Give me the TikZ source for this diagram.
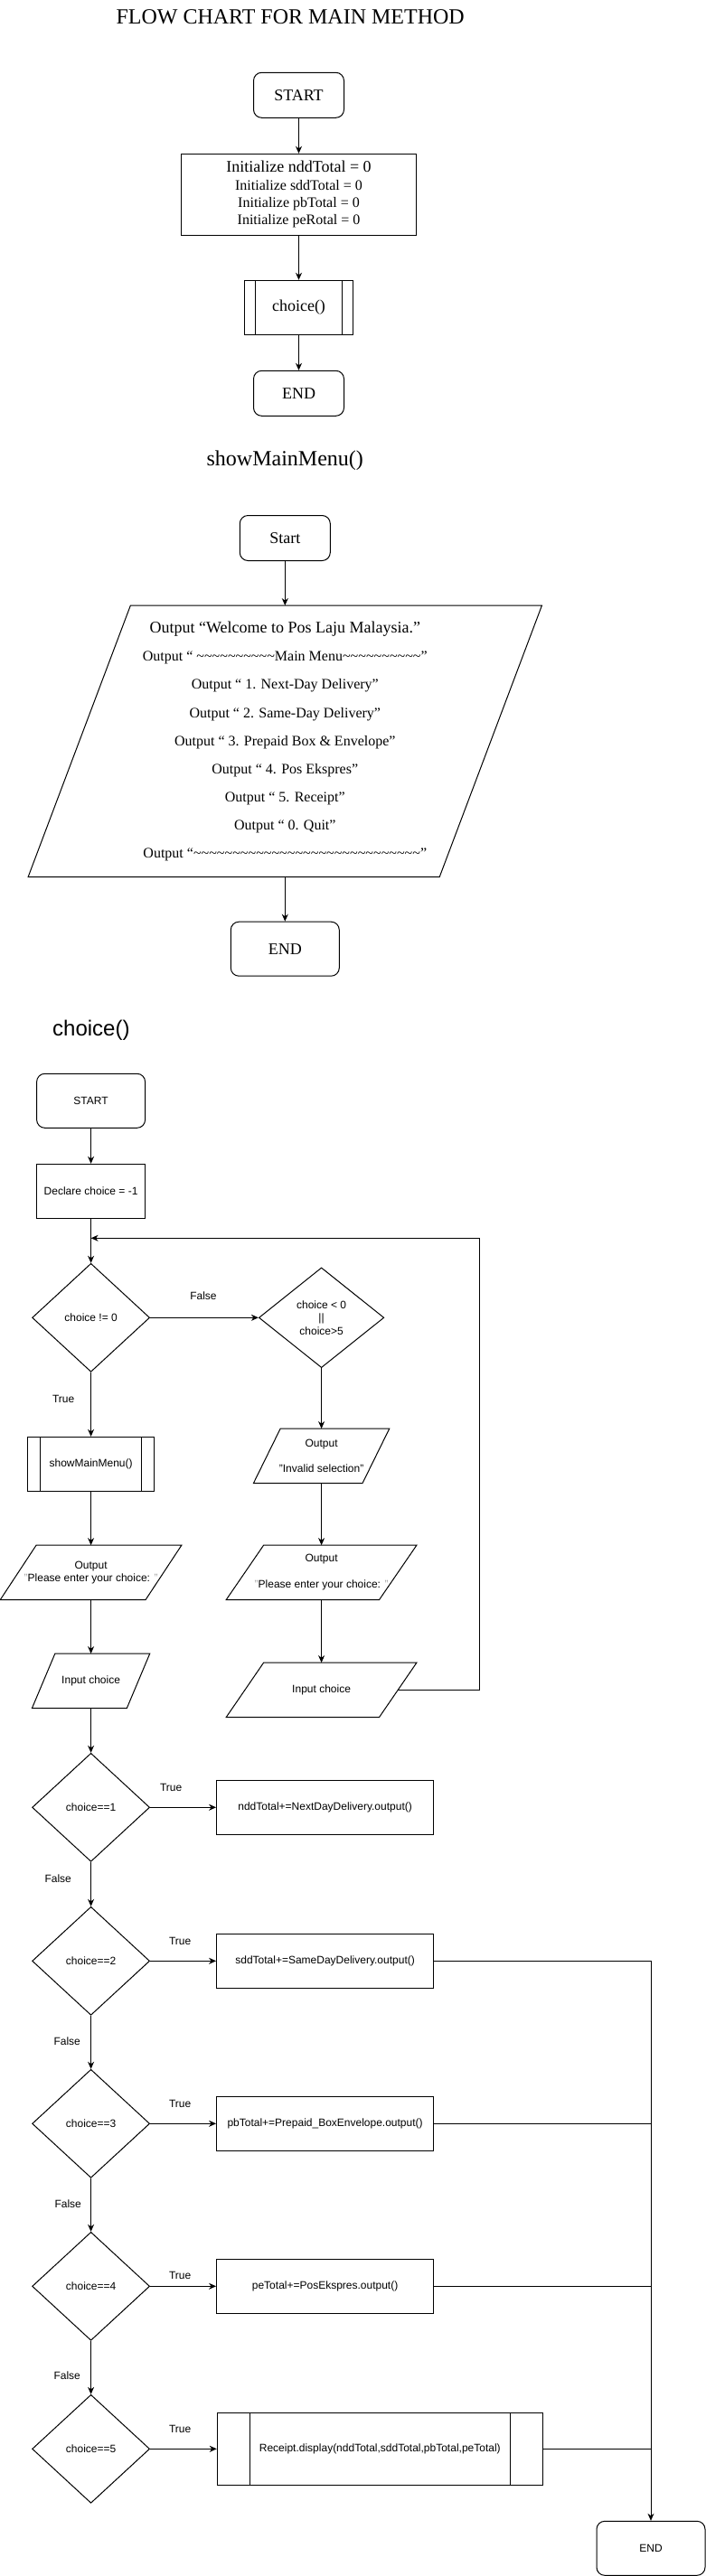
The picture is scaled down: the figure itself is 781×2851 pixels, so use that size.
\documentclass[tikz,border=0pt]{standalone}
\usepackage{fontspec}
\setmainfont{Liberation Serif}
\setsansfont{Liberation Sans}
\usepackage{xcolor}
\usetikzlibrary{arrows.meta,positioning,shapes.geometric}
\newcommand\tld[1]{\foreach \i in {1,...,#1}{\textasciitilde}}
\newcommand\gq{\textcolor{gray!70}{"}}
\tikzset{
  % plain black outline, 1px
  base/.style={draw=black,line width=1pt,inner sep=0pt},
  % terminal (rounded)
  termbox/.style={base,rectangle,rounded corners=9pt,
    minimum width=100pt,minimum height=50pt},
  % process box
  procbox/.style={base,rectangle,align=center,
    minimum width=120pt,minimum height=60pt},
  % predefined process, #1 = inset of the side bars
  subbox/.style={procbox,
    path picture={
      \draw[line width=1pt]
        ([xshift=#1]path picture bounding box.north west) --
        ([xshift=#1]path picture bounding box.south west)
        ([xshift=-#1]path picture bounding box.north east) --
        ([xshift=-#1]path picture bounding box.south east);}},
  % decision
  decbox/.style={base,diamond,align=center,
    minimum width=130pt,minimum height=120pt},
  % input / output, #1 = edge length, #2 = slant
  iobox/.style 2 args={rectangle,inner sep=0pt,align=center,
    minimum width=#1,minimum height=60pt,
    append after command={\pgfextra{\draw[line width=1pt]
      ([xshift=-#2/2]\tikzlastnode.south west) --
      ([xshift=-#2/2]\tikzlastnode.south east) --
      ([xshift=#2/2]\tikzlastnode.north east) --
      ([xshift=#2/2]\tikzlastnode.north west) -- cycle;}}},
  % fonts
  serifL/.style={font=\fontsize{24}{28}\selectfont},
  serifM/.style={font=\fontsize{18}{21}\selectfont},
  sansS/.style={font=\sffamily\fontsize{12}{14.4}\selectfont},
  lbl/.style={sansS,inner sep=0pt},
  % arrows
  arr/.style={-{Stealth[length=8pt,width=7pt,inset=2.5pt]},line width=1pt},
  conn/.style={line width=1pt},
}
\begin{document}
\begin{tikzpicture}[x=1pt,y=-1pt]
  \useasboundingbox (0,0) rectangle (781,2851);
  \fill[white] (0,0) rectangle (781,2851);

  % Main method
  \def\mx{330.5}
  \node[serifL] (mtitle) at (321.2,19.2) {FLOW CHART FOR MAIN METHOD};
  \node[termbox,serifM] (mstart) at (\mx,105.3) {START};
  \node[procbox,minimum width=260pt,minimum height=90pt,
    font=\fontsize{16}{19}\selectfont] (minit) at (\mx,215.3)
    {{\fontsize{18}{19}\selectfont Initialize nddTotal = 0}\\[1.3pt]
     Initialize sddTotal = 0\\
     Initialize pbTotal = 0\\
     Initialize peRotal = 0};
  \node[subbox=12pt,serifM] (mchoice) at (\mx,340.3) {choice()};
  \node[termbox,serifM] (mend) at (\mx,435.3) {END};
  \draw[arr] (mstart) -- (minit);
  \draw[arr] (minit) -- (mchoice);
  \draw[arr] (mchoice) -- (mend);

  % showMainMenu()
  \def\sx{315.3}
  \node[serifL] (stitle) at (\sx,509.7) {showMainMenu()};
  \node[termbox,serifM] (sstart) at (\sx,595.5) {Start};
  \node[iobox={454.7pt}{113.2pt},minimum height=300pt,
    font=\fontsize{16}{31.1}\selectfont] (smenu) at (\sx,820.3)
    {{\fontsize{18}{31.1}\selectfont Output “Welcome to Pos Laju Malaysia.”}\\[0.5pt]
     Output “ \tld{10}Main Menu\tld{10}”\\
     Output “ 1. Next-Day Delivery”\\
     Output “ 2. Same-Day Delivery”\\
     Output “ 3. Prepaid Box \& Envelope”\\
     Output “ 4. Pos Ekspres”\\
     Output “ 5. Receipt”\\
     Output “ 0. Quit”\\
     Output “\tld{29}”};
  \node[termbox,serifM,minimum width=120pt,minimum height=60pt] (send) at (\sx,1050.2) {END};
  \draw[arr] (sstart) -- (smenu);
  \draw[arr] (smenu) -- (send);

  % choice()
  \def\lx{100.6}
  \def\rx{355.6}
  \node[font=\sffamily\fontsize{24}{28}\selectfont] (ctitle) at (100.85,1140.7) {choice()};
  \node[termbox,sansS,minimum width=120pt,minimum height=60pt] (cstart) at (\lx,1218.3) {START};
  \node[procbox,sansS] (cdecl) at (\lx,1318.3) {Declare choice = -1};
  \coordinate (cjoin) at (\lx,1370.3);
  \coordinate (cloop) at (530.4,1370.3);
  \node[decbox,sansS] (cd0) at (\lx,1458.3) {choice != 0};
  \node[decbox,sansS,minimum width=138.4pt,minimum height=110.7pt] (cd00) at (\rx,1458.3)
    {choice < 0\\||\\choice>5};
  \node[subbox=14pt,sansS,minimum width=140pt] (cmenu) at (\lx,1620.3) {showMainMenu()};
  \node[iobox={120.2pt}{29.7pt},sansS] (cinv) at (\rx,1611.3)
    {Output\\[14.4pt]"Invalid selection"};
  \node[iobox={160.4pt}{39.8pt},sansS] (cout) at (\lx,1740.3)
    {Output\\\gq Please enter your choice: \gq};
  \node[iobox={104.5pt}{25.4pt},sansS] (cin) at (\lx,1860.3) {Input choice};
  \node[iobox={168.9pt}{41.4pt},sansS] (rout) at (\rx,1740.3)
    {Output\\[14.4pt]\gq Please enter your choice: \gq};
  \node[iobox={168.9pt}{41.4pt},sansS] (rin) at (\rx,1870.3) {Input choice};

  \foreach \k/\y in {1/2000.3,2/2170.3,3/2350.3,4/2530.3,5/2710.3}
    \node[decbox,sansS] (cd\k) at (\lx,\y) {choice==\k};
  \node[procbox,sansS,minimum width=240pt] (cb1) at (359.6,2000.3) {nddTotal+=NextDayDelivery.output()};
  \node[procbox,sansS,minimum width=240pt] (cb2) at (359.6,2170.3) {sddTotal+=SameDayDelivery.output()};
  \node[procbox,sansS,minimum width=240pt] (cb3) at (359.6,2350.3) {pbTotal+=Prepaid\_BoxEnvelope.output()};
  \node[procbox,sansS,minimum width=240pt] (cb4) at (359.6,2530.3) {peTotal+=PosEkspres.output()};
  \node[subbox=36pt,sansS,minimum width=360pt,minimum height=80pt] (cb5) at (420.3,2710.3)
    {Receipt.display(nddTotal,sddTotal,pbTotal,peTotal)};
  \node[termbox,sansS,minimum width=120pt,minimum height=60pt] (cend) at (720,2820.3) {END};

  % connectors
  \draw[arr] (cstart) -- (cdecl);
  \draw[arr] (cdecl) -- (cd0);
  \draw[arr] (rin.east) -| (cloop) -- (cjoin);
  \draw[arr] (cd0) -- (cd00);
  \draw[arr] (cd0) -- (cmenu);
  \draw[arr] (cd00) -- (cinv);
  \draw[arr] (cinv) -- (rout);
  \draw[arr] (rout) -- (rin);
  \draw[arr] (cmenu) -- (cout);
  \draw[arr] (cout) -- (cin);
  \draw[arr] (cin) -- (cd1);
  \foreach \k/\n in {1/2,2/3,3/4,4/5}
    \draw[arr] (cd\k) -- (cd\n);
  \foreach \k in {1,...,5}
    \draw[arr] (cd\k) -- (cb\k);
  \draw[arr] (cb2) -| (cend);
  \foreach \k in {3,4,5}
    \draw[conn] (cb\k.east) -- (cb\k.east -| cend);

  % labels
  \node[lbl] (lf0) at (225,1433.7) {False};
  \node[lbl] (lt0) at (70.2,1548.3) {True};
  \node[lbl] (lt1) at (189.2,1978.7) {True};
  \foreach \k/\y in {2/2148.7,3/2328.7,4/2518.7,5/2688.7}
    \node[lbl] (lt\k) at (199.2,\y) {True};
  \foreach \k/\x/\y in {1/64.2/2078.7,2/74.2/2258.7,3/75.2/2438.7,4/74.2/2628.7}
    \node[lbl] (lf\k) at (\x,\y) {False};
\end{tikzpicture}
\end{document}
